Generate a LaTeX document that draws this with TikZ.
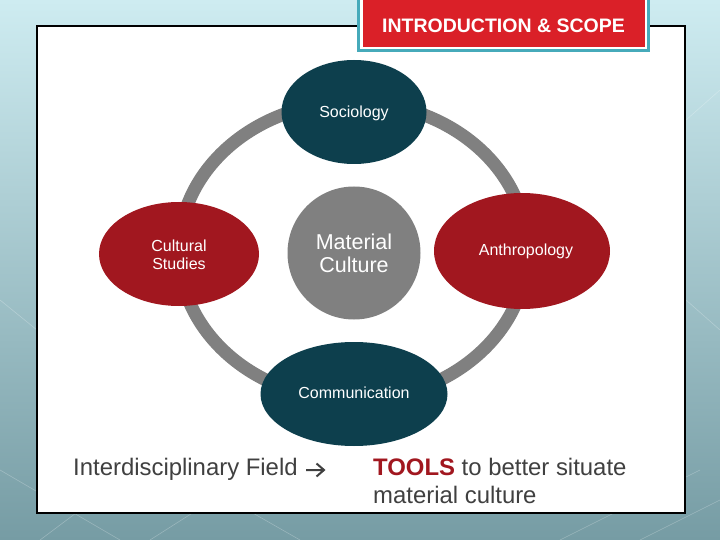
\documentclass[tikz,border=0pt]{standalone}
\usepackage{fontspec}
\setmainfont{Liberation Sans}
\usetikzlibrary{shapes.geometric,arrows.meta}
\definecolor{bgtop}{RGB}{206,236,241}
\definecolor{bgbot}{RGB}{118,156,164}
\definecolor{dteal}{RGB}{13,63,77}
\definecolor{dred}{RGB}{161,23,31}
\definecolor{tred}{RGB}{218,32,40}
\definecolor{tcyan}{RGB}{70,170,186}
\definecolor{ringgray}{RGB}{128,128,128}
\definecolor{txtgray}{RGB}{64,64,64}
\tikzset{
  blob/.style={ellipse, inner sep=0pt, text=white, align=center,
    font=\fontsize{16}{18}\selectfont},
  tealblob/.style={blob, fill=dteal},
  redblob/.style={blob, fill=dred},
}
\begin{document}
\begin{tikzpicture}[x=1pt,y=-1pt]
\useasboundingbox (0,0) rectangle (720,540);
% background
\shade[top color=bgtop, bottom color=bgbot] (0,0) rectangle (720,540);
\begin{scope}[white, opacity=0.25, line width=0.6pt]
  \draw (0,470) -- (120,540);
  \draw (40,540) -- (160,450);
  \draw (150,540) -- (260,470);
  \draw (230,500) -- (300,540);
  \draw (560,540) -- (700,470);
  \draw (640,540) -- (720,500);
  \draw (686,300) -- (720,330);
  \draw (686,120) -- (720,90);
  \draw (0,300) -- (37,330);
\end{scope}
% white panel
\draw[fill=white, line width=1.2pt] (37,26) rectangle (685,513);
% title box
\fill[tcyan] (357,-2) rectangle (650,52);
\fill[white] (360,-2) rectangle (647,49.5);
\fill[tred] (362.5,-2) rectangle (644.5,47);
\node (title) at (503.5,25.5) [text=white, inner sep=0pt,
  font=\fontsize{19.5}{22}\selectfont\bfseries] {INTRODUCTION \& SCOPE};
% ring
\draw[ringgray, line width=13pt] (353,251) ellipse [x radius=174, y radius=149];
% nodes
\node (soc) at (354,112) [tealblob, minimum width=145pt, minimum height=104pt] {};
\node at (354,113) [blob] {Sociology};
\node (com) at (354,394) [tealblob, minimum width=187pt, minimum height=104pt] {};
\node at (354,393) [blob] {Communication};
\node (cs) at (179,254) [redblob, minimum width=160pt, minimum height=104pt] {};
\node at (179,255) [blob] {Cultural\\Studies};
\node (anth) at (522,251) [redblob, minimum width=176pt, minimum height=116pt] {};
\node at (526,251) [blob] {Anthropology};
\node (mc) at (354,253) [circle, fill=ringgray, minimum size=133pt, inner sep=0pt] {};
\node at (354,253) [blob, font=\fontsize{21.5}{23}\selectfont] {Material\\Culture};
% bottom texts
\node (field) at (73,469) [anchor=west, inner sep=0pt, text=txtgray,
  font=\fontsize{23.9}{28}\selectfont] {Interdisciplinary Field};
\draw[txtgray, line width=2pt, line join=miter]
  (306,470) -- (324,470) (316.5,463.5) -- (324,470) -- (316.5,476.5);
\node (tools) at (373,481) [anchor=west, inner sep=0pt, text=txtgray, align=left,
  font=\fontsize{23.9}{28}\selectfont]
  {\textcolor{dred}{\bfseries TOOLS} to better situate\\material culture};
\end{tikzpicture}
\end{document}
